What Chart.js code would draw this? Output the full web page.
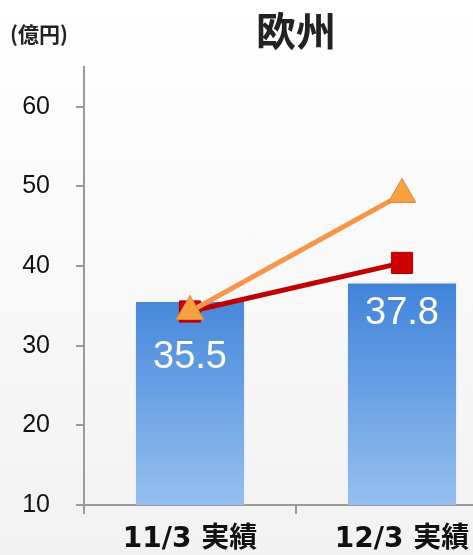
<!DOCTYPE html>
<html>
<head>
<meta charset="utf-8">
<script src="https://cdn.jsdelivr.net/npm/chart.js@4/dist/chart.umd.min.js"></script>
<style>
  html, body { margin: 0; padding: 0; overflow: hidden; }
  body { width: 473px; height: 555px; background: linear-gradient(#ffffff, #f2f2f2); }
  #wrap { width: 592px; height: 555px; }
</style>
</head>
<body>
<div id="wrap"><canvas id="europeChart" width="592" height="555"></canvas></div>
<script>
'use strict';

// data
const categories = ['11/3 実績', '12/3 実績'];
const barValues = [35.5, 37.8];
const redValues = [34.3, 40.4];
const orangeValues = [34.3, 49.0];
const yTicks = [10, 20, 30, 40, 50, 60];
const titleText = '欧州';
const unitText = '(億円)';

const fontFamily = '"Liberation Sans", "Noto Sans CJK JP", sans-serif';
const axisColor = '#9a9a9a';

// title, unit and value labels
const decorPlugin = {
  id: 'decor',
  afterDatasetsDraw(chart) {
    const ctx = chart.ctx;
    const area = chart.chartArea;
    ctx.save();
    ctx.fillStyle = '#222';
    ctx.textAlign = 'center';
    ctx.textBaseline = 'middle';
    ctx.font = 'bold 40px "Noto Sans CJK JP", sans-serif';
    ctx.fillText(titleText, (area.left + area.right) / 2, 31);

    ctx.textAlign = 'left';
    ctx.font = 'bold 21px "Noto Sans CJK JP", sans-serif';
    ctx.fillText(unitText, 10, 34);

    // bar values in white
    const meta = chart.getDatasetMeta(0);
    const offsets = [56, 30];
    ctx.fillStyle = '#ffffff';
    ctx.textAlign = 'center';
    ctx.font = '38px ' + fontFamily;
    meta.data.forEach(function (bar, i) {
      ctx.fillText(barValues[i].toFixed(1), bar.x, bar.y + offsets[i]);
    });
    ctx.restore();
  }
};

const ctx = document.getElementById('europeChart').getContext('2d');

function barGradient(context) {
  const area = context.chart.chartArea;
  if (!area) return '#3c80d9';
  const g = context.chart.ctx.createLinearGradient(0, area.top + 200, 0, area.bottom);
  g.addColorStop(0, '#3a7fd8');
  g.addColorStop(1, '#95bfef');
  return g;
}

new Chart(ctx, {
  type: 'bar',
  data: {
    labels: categories,
    datasets: [
      {
        data: barValues,
        backgroundColor: barGradient,
        borderWidth: 0,
        barPercentage: 1,
        categoryPercentage: 0.51,
        order: 3
      },
      {
        type: 'line',
        data: redValues,
        borderColor: '#c00000',
        borderWidth: 5,
        pointStyle: 'rect',
        pointRadius: 15,
        pointBackgroundColor: '#cc0000',
        pointBorderColor: '#b00000',
        pointBorderWidth: 1,
        order: 2
      },
      {
        type: 'line',
        data: orangeValues,
        borderColor: '#f7964a',
        borderWidth: 5,
        pointStyle: 'triangle',
        pointRadius: 16,
        pointBackgroundColor: '#f9a040',
        pointBorderColor: '#d98a3a',
        pointBorderWidth: 1,
        order: 1
      }
    ]
  },
  plugins: [decorPlugin],
  options: {
    responsive: false,
    animation: false,
    layout: {
      padding: { top: 67, right: 84, bottom: 0, left: 0 }
    },
    plugins: {
      legend: { display: false },
      tooltip: { enabled: false }
    },
    scales: {
      x: {
        offset: true,
        grid: {
          offset: true,
          drawOnChartArea: false,
          tickLength: 9,
          color: axisColor,
          lineWidth: 2
        },
        border: { color: axisColor, width: 2 },
        ticks: {
          color: '#111',
          padding: 9,
          font: { size: 28, weight: 'bold', family: '"DejaVu Sans", "Noto Sans CJK JP", sans-serif' }
        },
        afterFit: function (scale) { scale.height = 50; }
      },
      y: {
        min: 10,
        max: 65,
        afterBuildTicks: function (scale) {
          scale.ticks = yTicks.map(function (v) { return { value: v }; });
        },
        grid: {
          drawOnChartArea: false,
          tickLength: 8,
          color: axisColor,
          lineWidth: 2
        },
        border: { color: axisColor, width: 2 },
        ticks: {
          color: '#111',
          padding: 26,
          font: { size: 25, family: fontFamily }
        },
        afterFit: function (scale) { scale.width = 84; }
      }
    }
  }
});
</script>
</body>
</html>
